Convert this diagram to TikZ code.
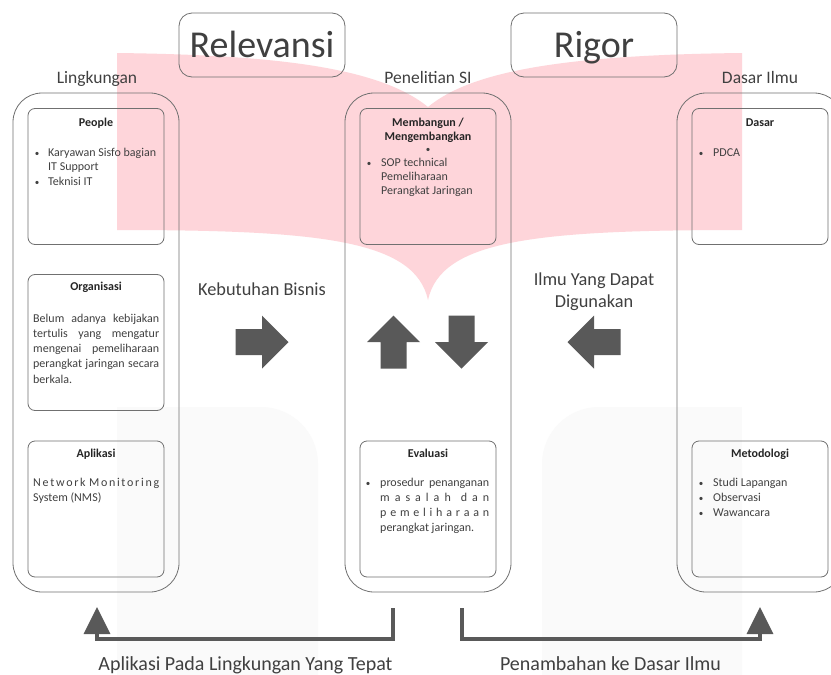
\documentclass[tikz,border=0pt]{standalone}
\usepackage{fontspec}
\setmainfont{Carlito}
\usetikzlibrary{arrows.meta}
\definecolor{txt}{HTML}{404040}
\definecolor{ttl}{HTML}{262626}
\definecolor{frame}{HTML}{707070}
\definecolor{arr}{HTML}{595959}
\definecolor{wmpink}{HTML}{FED5DA}
\definecolor{wmgray}{HTML}{FAFAFA}
\newcommand\gp{\hfil}
\newcommand\spreadline[1]{\leavevmode\hbox to \linewidth{#1}}
\tikzset{
 outerbox/.style={draw=frame, line width=0.8pt, rounded corners=29pt, minimum width=166pt, minimum height=499pt, inner sep=0pt},
 innerbox/.style={draw=frame, line width=0.8pt, rounded corners=7pt, minimum width=136pt, minimum height=136pt, inner sep=0pt},
 titlebox/.style={draw=frame, line width=0.8pt, rounded corners=13pt, minimum width=166pt, minimum height=64pt, inner sep=0pt},
 bigtitle/.style={font=\fontsize{38}{40}\selectfont, text=txt, anchor=base, inner sep=0pt},
 head/.style={font=\fontsize{17.5}{20}\selectfont, text=txt, anchor=base, inner sep=0pt},
 mid/.style={font=\fontsize{18.3}{22}\selectfont, text=txt, anchor=base, inner sep=0pt},
 bot/.style={font=\fontsize{20}{22}\selectfont, text=txt, anchor=base, inner sep=0pt},
 btitle/.style={font=\fontsize{12}{14.6}\selectfont\bfseries, text=ttl, anchor=base, inner sep=0pt},
 body/.style={font=\fontsize{12}{15}\selectfont, text=txt, anchor=base west, inner sep=0pt},
 bul/.style={font=\fontsize{9}{9}\selectfont, text=txt, anchor=base, inner sep=0pt},
 blockarrow/.style={fill=arr},
 conn/.style={draw=arr, line width=3.5pt, -{Triangle[length=27pt,width=26pt]}},
}
\begin{document}
\begin{tikzpicture}[x=1pt,y=-1pt]
\useasboundingbox (0,0) rectangle (831,675);
\clip (0,0) rectangle (831,675);
\fill[white] (0,0) rectangle (831,675);
% watermark
\fill[wmgray, rounded corners=57pt] (117,407) rectangle (318,760);
\fill[wmgray] (117,407) rectangle (200,760);
\fill[wmgray, rounded corners=57pt] (542,407) rectangle (742,760);
\fill[wmgray] (660,407) rectangle (742,760);
\fill[wmpink] (117,53) .. controls (280,55) and (380,68) .. (428,107)
  .. controls (470,72) and (560,55) .. (742,53) -- (742,230)
  .. controls (536,230) and (441,240) .. (428,300)
  .. controls (415,240) and (320,230) .. (117,230) -- cycle;

% title boxes
\node[titlebox] (relbox) at (262,45) {};
\node[bigtitle] (reltxt) at (262,57) {Relevansi};
\node[titlebox] (rigbox) at (594,45) {};
\node[bigtitle] (rigtxt) at (594,57) {Rigor};

% column headings
\node[head] (hlingk) at (97,83) {Lingkungan};
\node[head] (hpenel) at (428,83) {Penelitian SI};
\node[head] (hdasar) at (760,83) {Dasar Ilmu};

% outer columns
\node[outerbox] (lingk) at (96,342.5) {};
\node[outerbox] (penel) at (428,342.5) {};
\node[outerbox] (dasar) at (760,342.5) {};

% inner boxes
\node[innerbox] (people) at (96,176.5) {};
\node[innerbox] (organ) at (96,342.5) {};
\node[innerbox] (aplik) at (96,509) {};
\node[innerbox] (bangun) at (428,176.5) {};
\node[innerbox] (evalu) at (428,509) {};
\node[innerbox] (dasarb) at (760,176.5) {};
\node[innerbox] (metod) at (760,509) {};

% People
\node[btitle] (tpeople) at (96,126) {People};
\node[bul] (bp1) at (37,156) {•};
\node[bul] (bp2) at (37,185.2) {•};
\node[body, font=\fontsize{12}{14.6}\selectfont] (xpeople) at (48,156)
  {\parbox[t]{115pt}{Karyawan Sisfo bagian\\IT Support\\Teknisi IT}};

% Organisasi
\node[btitle] (torgan) at (96,290) {Organisasi};
\node[body, font=\fontsize{12}{15.25}\selectfont] (xorgan) at (33,322)
  {\parbox[t]{126pt}{Belum adanya kebijakan\linebreak tertulis yang mengatur\linebreak mengenai pemeliharaan\linebreak perangkat jaringan secara\linebreak berkala.}};

% Aplikasi
\node[btitle] (taplik) at (96,457) {Aplikasi};
\node[body] (xaplik) at (33,486)
  {\parbox[t]{126pt}{\spreadline{N\gp e\gp t\gp w\gp o\gp r\gp k\gp\gp M\gp o\gp n\gp i\gp t\gp o\gp r\gp i\gp n\gp g}\\System (NMS)}};

% Membangun
\node[btitle] (tbang1) at (428,126.5) {Membangun /};
\node[btitle] (tbang2) at (428,140.5) {Mengembangkan};
\node[bul] (bbang0) at (428,152.5) {•};
\node[bul] (bbang1) at (369,166.5) {•};
\node[body, font=\fontsize{12}{14}\selectfont] (xbang) at (381,166.5)
  {\parbox[t]{112pt}{SOP technical\\Pemeliharaan\\Perangkat Jaringan}};

% Evaluasi
\node[btitle] (teval) at (428,457) {Evaluasi};
\node[bul] (beval) at (368,486) {•};
\node[body, font=\fontsize{12}{15.3}\selectfont] (xeval) at (380,486)
  {\parbox[t]{109pt}{\spreadline{prosedur\hfil penanganan}\\\spreadline{m\gp a\gp s\gp a\gp l\gp a\gp h\gp\gp d\gp a\gp n}\\\spreadline{p\gp e\gp m\gp e\gp l\gp i\gp h\gp a\gp r\gp a\gp a\gp n}\\perangkat jaringan.}};

% Dasar
\node[btitle] (tdasar) at (760,126) {Dasar};
\node[bul] (bdasar) at (701,156) {•};
\node[body] (xdasar) at (713,156) {PDCA};

% Metodologi
\node[btitle] (tmetod) at (760,457) {Metodologi};
\node[bul] (bm1) at (701,486) {•};
\node[bul] (bm2) at (701,501) {•};
\node[bul] (bm3) at (701,516) {•};
\node[body] (xmetod) at (713,486)
  {\parbox[t]{110pt}{Studi Lapangan\\Observasi\\Wawancara}};

% middle labels
\node[mid] (kebut) at (262,295) {Kebutuhan Bisnis};
\node[mid] (ilmu1) at (594,285) {Ilmu Yang Dapat};
\node[mid] (ilmu2) at (594,307) {Digunakan};

% block arrows
\fill[blockarrow] (235.5,329) -- (262,329) -- (262,315.5) -- (288.5,342) -- (262,368.5) -- (262,355) -- (235.5,355) -- cycle;
\fill[blockarrow] (380.5,368.5) -- (380.5,342) -- (367,342) -- (393.5,315.5) -- (420,342) -- (406.5,342) -- (406.5,368.5) -- cycle;
\fill[blockarrow] (448.5,315.5) -- (448.5,342) -- (435,342) -- (461.5,368.5) -- (488,342) -- (474.5,342) -- (474.5,315.5) -- cycle;
\fill[blockarrow] (620.5,329) -- (594,329) -- (594,315.5) -- (567.5,342) -- (594,368.5) -- (594,355) -- (620.5,355) -- cycle;

% bottom connectors
\coordinate (ls) at (393,608);
\coordinate (lc) at (97,639);
\coordinate (lt) at (97,607);
\coordinate (rs) at (462,608);
\coordinate (rc) at (760,639);
\coordinate (rt) at (760,607);
\draw[conn] (ls) |- (lc) -- (lt);
\draw[conn] (rs) |- (rc) -- (rt);

\node[bot] (aplbot) at (245.5,670) {Aplikasi Pada Lingkungan Yang Tepat};
\node[bot] (penbot) at (610.5,670) {Penambahan ke Dasar Ilmu};
\end{tikzpicture}
\end{document}
